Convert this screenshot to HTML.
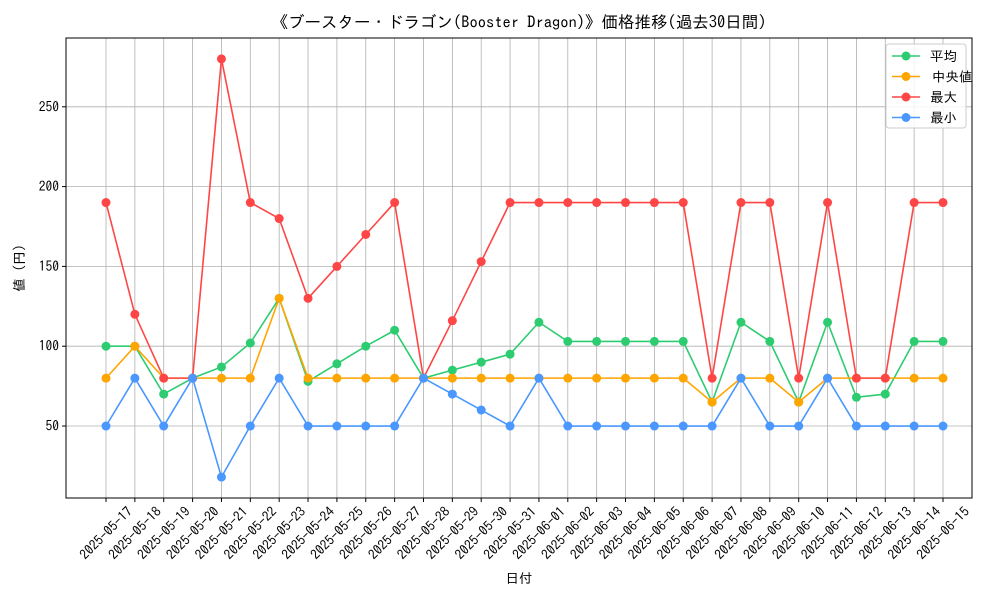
<!DOCTYPE html>
<html><head><meta charset="utf-8">
<style>
html,body{margin:0;padding:0;background:#fff;}
svg{display:block;font-family:"IPAGothic","Liberation Sans","Noto Sans CJK JP",sans-serif;}
</style></head>
<body>
<svg id="chart" width="1000" height="600" viewBox="0 0 1000 600">
<rect width="1000" height="600" fill="#fff"/>
<text x="519" y="28" text-anchor="middle" font-size="16.5" fill="#000">《ブースター・ドラゴン(Booster Dragon)》価格推移(過去30日間)</text>
<g id="grid"></g>
<g id="series"></g>
<rect x="66" y="38" width="906" height="460" fill="none" stroke="#000" stroke-width="1"/>
<g id="axes"></g>
<text x="519" y="583" text-anchor="middle" font-size="13.5">日付</text>
<text transform="translate(24,268) rotate(-90)" text-anchor="middle" font-size="13.5">値 (円)</text>
<g id="legend"></g>
</svg>
<script>
const dates=["2025-05-17","2025-05-18","2025-05-19","2025-05-20","2025-05-21","2025-05-22","2025-05-23","2025-05-24","2025-05-25","2025-05-26","2025-05-27","2025-05-28","2025-05-29","2025-05-30","2025-05-31","2025-06-01","2025-06-02","2025-06-03","2025-06-04","2025-06-05","2025-06-06","2025-06-07","2025-06-08","2025-06-09","2025-06-10","2025-06-11","2025-06-12","2025-06-13","2025-06-14","2025-06-15"];
const avgVals=[100,100,70,80,87,102,130,78,89,100,110,80,85,90,95,115,103,103,103,103,103,65,115,103,65,115,68,70,103,103];
const medVals=[80,100,80,80,80,80,130,80,80,80,80,80,80,80,80,80,80,80,80,80,80,65,80,80,65,80,80,80,80,80];
const maxVals=[190,120,80,80,280,190,180,130,150,170,190,80,116,153,190,190,190,190,190,190,190,80,190,190,80,190,80,80,190,190];
const minVals=[50,80,50,80,18,50,80,50,50,50,50,80,70,60,50,80,50,50,50,50,50,50,80,50,50,80,50,50,50,50];
const yTicks=[50,100,150,200,250];
const seriesNames=["平均","中央値","最大","最小"];
const NS="http://www.w3.org/2000/svg";
const L=66,R=972,T=38,B=498;
const yMin=4.9,yMax=293.1;
function xs(i){return 106+i*(943-106)/(dates.length-1);}
function ys(v){return B-(v-yMin)/(yMax-yMin)*(B-T);}
function mk(tag,attrs,parent){const e=document.createElementNS(NS,tag);for(const k in attrs)e.setAttribute(k,attrs[k]);parent.appendChild(e);return e;}
const grid=document.getElementById('grid'),axes=document.getElementById('axes'),ser=document.getElementById('series'),leg=document.getElementById('legend');
dates.forEach((d,i)=>{
 const x=xs(i);
 const gl=mk('line',{x1:x,x2:x,y1:T,y2:B,stroke:'#b0b0b0','stroke-width':0.8},grid);
 
 
 const tk=mk('line',{x1:x,x2:x,y1:B,y2:B+4,stroke:'#000'},axes);
 
 
 const t=mk('text',{transform:`translate(${x},${B+35}) rotate(-45)`,'text-anchor':'middle',dy:'0.35em','font-size':13.5},axes);
 t.textContent=d;
 
 
});
yTicks.forEach(v=>{
 const y=ys(v);
 const gl=mk('line',{x1:L,x2:R,y1:y,y2:y,stroke:'#b0b0b0','stroke-width':0.8},grid);
 
 
 const tk=mk('line',{x1:L-4,x2:L,y1:y,y2:y,stroke:'#000'},axes);
 
 
 const t=mk('text',{x:L-7,y:y+4.5,'text-anchor':'end','font-size':13.5},axes);
 t.textContent=v;
 
 
});
const allSeries=[avgVals,medVals,maxVals,minVals];
const colors=["#2ecc71","#ffa500","#ff4646","#4a98ff"];
const keys=["avg","median","max","min"];
allSeries.forEach((vals,s)=>{
 const g=mk('g',{},ser);
 
 
 const pts=vals.map((v,i)=>xs(i)+','+ys(v)).join(' ');
 const pl=mk('polyline',{points:pts,fill:'none',stroke:colors[s],'stroke-width':1.6},g);
 
 
 vals.forEach((v,i)=>{
  const c=mk('circle',{cx:xs(i),cy:ys(v),r:4.5,fill:colors[s]},g);
  
  
 });
});
const lb=mk('rect',{x:886,y:44,width:80,height:84,rx:3,fill:'#fff','fill-opacity':0.85,stroke:'#ccc'},leg);


seriesNames.forEach((n,s)=>{
 const y=56+s*20.5;
 const g=mk('g',{},leg);
 
 
 mk('line',{x1:892,x2:920,y1:y,y2:y,stroke:colors[s],'stroke-width':1.6},g);
 mk('circle',{cx:906,cy:y,r:4.5,fill:colors[s]},g);
 const t=mk('text',{x:(s==1?932:930),y:y+5,'font-size':13.5},g);
 t.textContent=n;
});
</script>
</body></html>
